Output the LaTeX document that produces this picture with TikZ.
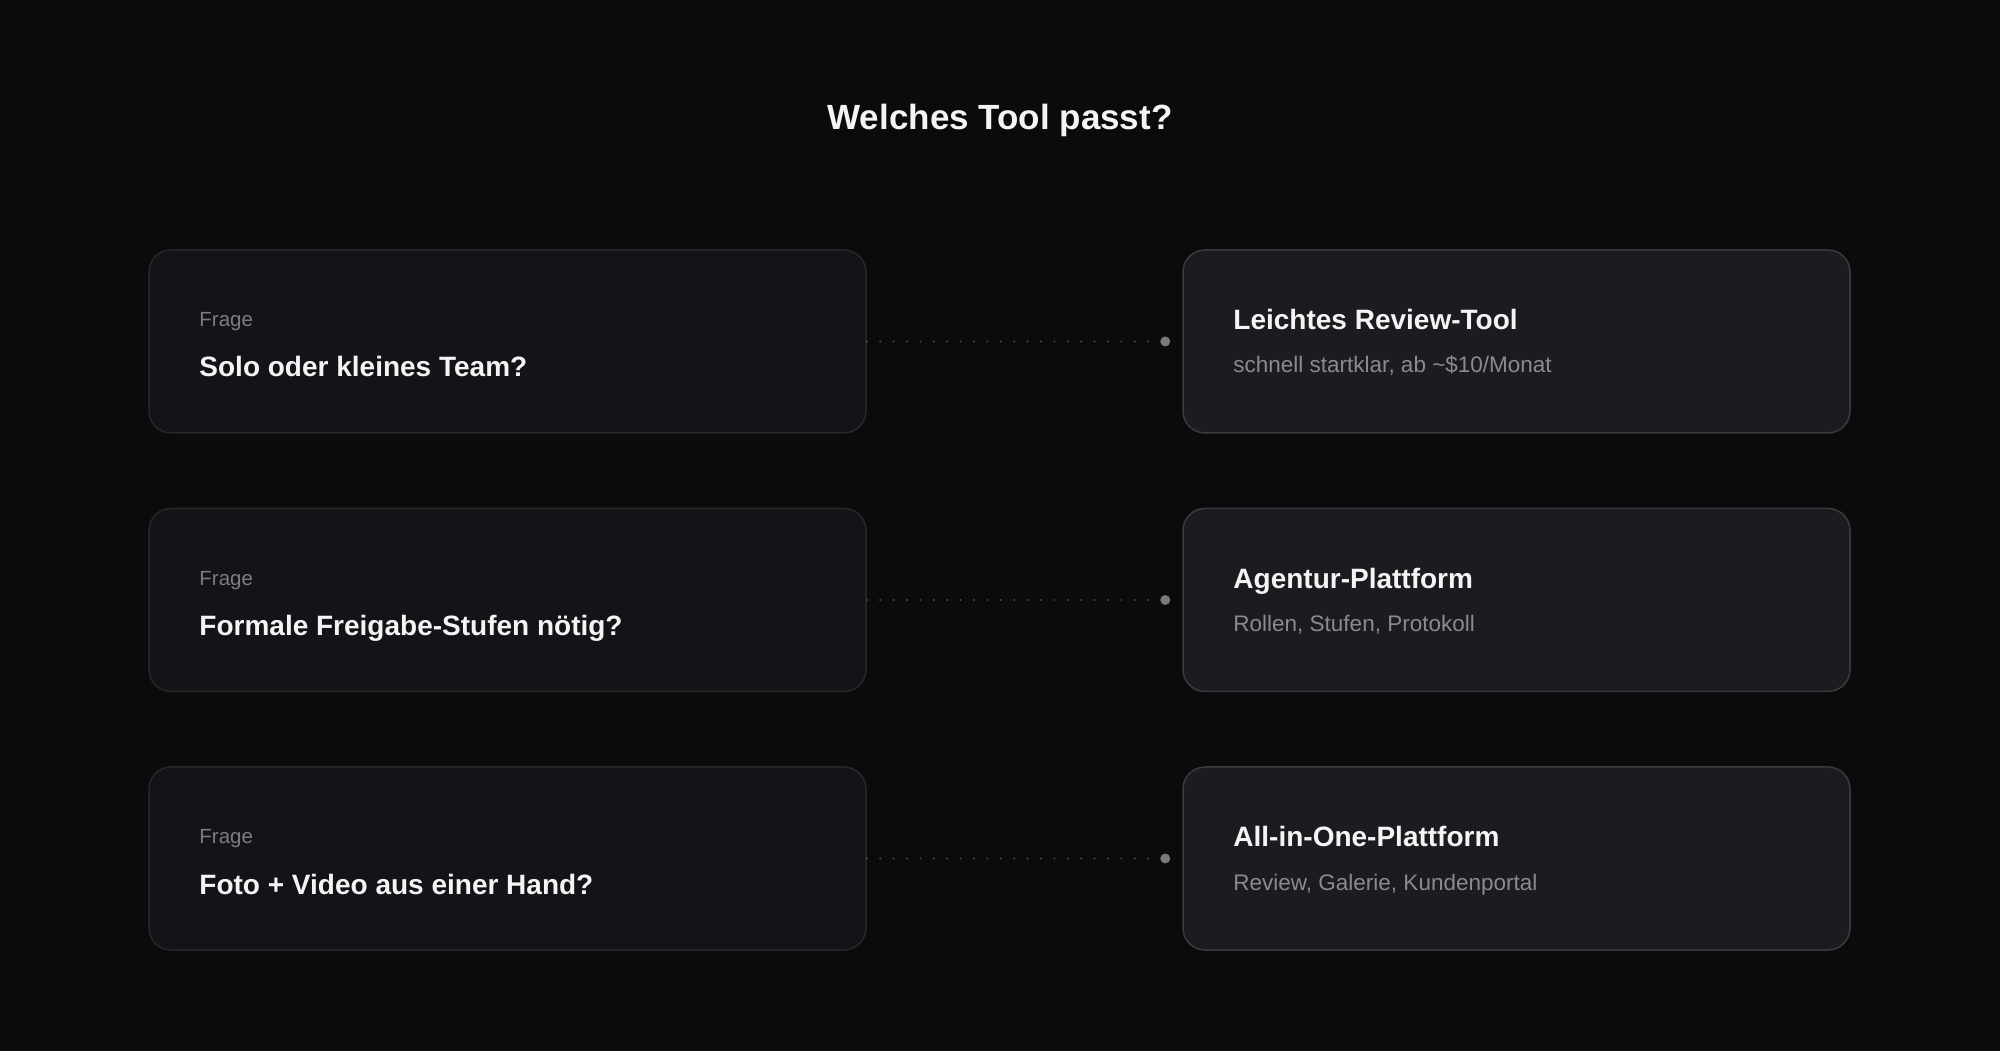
\documentclass[tikz,border=0pt]{standalone}
\usepackage{fontspec}
\setmainfont{Liberation Sans}
\usetikzlibrary{positioning}

\definecolor{bgcol}{HTML}{0B0B0C}
\definecolor{qfill}{HTML}{131418}
\definecolor{qline}{HTML}{27282C}
\definecolor{afill}{HTML}{1B1C20}
\definecolor{aline}{HTML}{3A3B40}
\definecolor{headcol}{HTML}{F4F4F5}
\definecolor{mutedcol}{HTML}{7C7C82}
\definecolor{subcol}{HTML}{8A8A90}
\definecolor{dotcol}{HTML}{4A4A4E}
\definecolor{enddotcol}{HTML}{7A7A7E}

\tikzset{
  qbox/.style={draw=qline, fill=qfill, line width=1.5pt, rounded corners=22pt,
    minimum width=717pt, minimum height=183pt, inner sep=0pt},
  abox/.style={qbox, draw=aline, fill=afill, minimum width=667pt},
  qlabel/.style={anchor=base west, inner sep=0pt, text=mutedcol, font=\fontsize{20.5}{24}\selectfont},
  head/.style={anchor=base west, inner sep=0pt, text=headcol, font=\bfseries\fontsize{28}{32}\selectfont},
  sub/.style={anchor=base west, inner sep=0pt, text=subcol, font=\fontsize{22.5}{26}\selectfont},
  dotline/.style={dotcol, line width=2.2pt, line cap=round, dash pattern=on 0pt off 13.4pt},
  enddot/.style={fill=enddotcol}
}

\begin{document}
\begin{tikzpicture}[x=1pt, y=1pt, on grid, node distance=258.5pt and 1009pt]
            \useasboundingbox (0,0) rectangle (2000,1050);
            \fill[bgcol] (-5,-5) rectangle (2005,1055);

            \node[anchor=base, inner sep=0pt, text=headcol, font=\bfseries\fontsize{35}{40}\selectfont] (title) at (1000,920) {Welches Tool passt?};

            % questions
            \node[qbox] (q1) at (507.5,708.5) {};
            \node[qbox, below=of q1] (q2) {};
            \node[qbox, below=of q2] (q3) {};

            % answers
            \node[abox, right=of q1] (a1) {};
            \node[abox, right=of q2] (a2) {};
            \node[abox, right=of q3] (a3) {};

            \node[qlabel] (q1k) at ([xshift=51pt, yshift=14.5pt]q1.west) {Frage};
            \node[head] (q1t) at ([xshift=51pt, yshift=-35.5pt]q1.west) {Solo oder kleines Team?};
            \node[qlabel] (q2k) at ([xshift=51pt, yshift=14.5pt]q2.west) {Frage};
            \node[head] (q2t) at ([xshift=51pt, yshift=-35.5pt]q2.west) {Formale Freigabe-Stufen nötig?};
            \node[qlabel] (q3k) at ([xshift=51pt, yshift=14.5pt]q3.west) {Frage};
            \node[head] (q3t) at ([xshift=51pt, yshift=-35.5pt]q3.west) {Foto + Video aus einer Hand?};

            \node[head] (a1t) at ([xshift=51pt, yshift=11.5pt]a1.west) {Leichtes Review-Tool};
            \node[sub] (a1s) at ([xshift=51pt, yshift=-31.5pt]a1.west) {schnell startklar, ab \textasciitilde\$10/Monat};
            \node[head] (a2t) at ([xshift=51pt, yshift=11.5pt]a2.west) {Agentur-Plattform};
            \node[sub] (a2s) at ([xshift=51pt, yshift=-31.5pt]a2.west) {Rollen, Stufen, Protokoll};
            \node[head] (a3t) at ([xshift=51pt, yshift=11.5pt]a3.west) {All-in-One-Plattform};
            \node[sub] (a3s) at ([xshift=51pt, yshift=-31.5pt]a3.west) {Review, Galerie, Kundenportal};

            % connectors
            \coordinate[left=17pt of a1.west] (d1);
            \coordinate[left=17pt of a2.west] (d2);
            \coordinate[left=17pt of a3.west] (d3);
            \draw[dotline] (q1.east) -- (d1);
            \draw[dotline] (q2.east) -- (d2);
            \draw[dotline] (q3.east) -- (d3);
            \fill[enddot] (d1) circle (5pt);
            \fill[enddot] (d2) circle (5pt);
            \fill[enddot] (d3) circle (5pt);
        \end{tikzpicture}
\end{document}
